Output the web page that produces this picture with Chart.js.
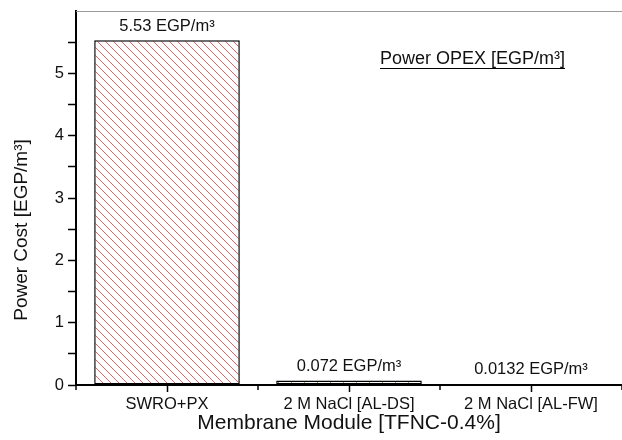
<!DOCTYPE html>
<html>
<head>
<meta charset="utf-8">
<script src="https://cdn.jsdelivr.net/npm/chart.js@4"></script>
<style>
  html, body { margin: 0; padding: 0; background: #fff; }
  #wrap { width: 622px; height: 440px; }
</style>
</head>
<body>
<div id="wrap"><canvas id="costChart" width="622" height="440"></canvas></div>
<script>
var modules = ['SWRO+PX', '2 M NaCl [AL-DS]', '2 M NaCl [AL-FW]'];
var powerCost = [5.53, 0.072, 0.0132];
var costLabels = ['5.53', '0.072', '0.0132'];
var unit = 'EGP/m\u00B3';

var FONT = "'Liberation Sans', Arial, sans-serif";

// diagonal hatch fill, lines running top-left to bottom-right
function hatch(color, gap, width) {
    var c = document.createElement('canvas');
    c.width = gap; c.height = gap;
    var g = c.getContext('2d');
    g.fillStyle = '#fff';
    g.fillRect(0, 0, gap, gap);
    g.strokeStyle = color;
    g.lineWidth = width;
    g.beginPath();
    g.moveTo(-1, -1); g.lineTo(gap + 1, gap + 1);
    g.moveTo(-1, gap - 1); g.lineTo(1, gap + 1);
    g.moveTo(gap - 1, -1); g.lineTo(gap + 1, 1);
    g.stroke();
    return g.createPattern(c, 'repeat');
}

var fills = [
    hatch('rgba(226, 70, 70, 0.85)', 8, 1),
    hatch('rgba(110, 170, 60, 0.9)', 13, 1),
    hatch('rgba(70, 70, 150, 0.95)', 13, 1.2)
];

var extras = {
    id: 'extras',
    afterDraw: function (chart) {
        var ctx = chart.ctx;
        var area = chart.chartArea;
        var x = chart.scales.x;
        ctx.save();

        // thin frame line along the top
        ctx.strokeStyle = '#9a9a9a';
        ctx.lineWidth = 1;
        ctx.beginPath();
        ctx.moveTo(area.left, area.top + 0.5);
        ctx.lineTo(chart.width, area.top + 0.5);
        ctx.stroke();

        // minor ticks between categories
        ctx.strokeStyle = '#000';
        ctx.lineWidth = 1.5;
        var step = x.getPixelForValue(1) - x.getPixelForValue(0);
        for (var i = 0; i <= modules.length; i++) {
            var px = x.getPixelForValue(0) - step / 2 + i * step;
            ctx.beginPath();
            ctx.moveTo(px, area.bottom);
            ctx.lineTo(px, area.bottom + 5);
            ctx.stroke();
        }

        // value labels above bars
        ctx.fillStyle = '#111';
        ctx.font = '16.5px ' + FONT;
        ctx.textAlign = 'center';
        ctx.textBaseline = 'bottom';
        chart.getDatasetMeta(0).data.forEach(function (bar, i) {
            ctx.fillText(costLabels[i] + ' ' + unit, bar.x, bar.y - 6);
        });

        // y axis title
        ctx.save();
        ctx.translate(22, 230);
        ctx.rotate(-Math.PI / 2);
        ctx.font = '19px ' + FONT;
        ctx.textBaseline = 'middle';
        ctx.fillText('Power Cost [' + unit + ']', 0, 0);
        ctx.restore();

        // underlined note
        ctx.font = '18px ' + FONT;
        ctx.textAlign = 'left';
        ctx.textBaseline = 'alphabetic';
        var note = 'Power OPEX [' + unit + ']';
        var w = ctx.measureText(note).width;
        ctx.fillText(note, 380, 64);
        ctx.lineWidth = 1;
        ctx.beginPath();
        ctx.moveTo(380, 68.5);
        ctx.lineTo(380 + w, 68.5);
        ctx.stroke();

        ctx.restore();
    }
};

new Chart(document.getElementById('costChart').getContext('2d'), {
    type: 'bar',
    data: {
        labels: modules,
        datasets: [{
            label: 'Power OPEX',
            data: powerCost,
            backgroundColor: fills,
            borderColor: '#000',
            borderWidth: 1.5,
            borderSkipped: false,
            barPercentage: 0.8,
            categoryPercentage: 1
        }]
    },
    options: {
        responsive: false,
        animation: false,
        layout: { padding: { top: 11, right: 0, left: 0, bottom: 0 } },
        plugins: {
            legend: { display: false },
            tooltip: { enabled: false }
        },
        scales: {
            x: {
                offset: true,
                grid: { offset: false, drawOnChartArea: false, tickLength: 7, tickColor: '#000', tickWidth: 1.5 },
                border: { color: '#000', width: 2 },
                ticks: { color: '#111', font: { family: FONT, size: 16.5 }, padding: 3, maxRotation: 0 },
                title: {
                    display: true,
                    text: 'Membrane Module [TFNC-0.4%]',
                    color: '#111',
                    font: { family: FONT, size: 21 },
                    padding: { top: 2, bottom: 4 }
                },
                afterFit: function (scale) { scale.height = 55; }
            },
            y: {
                min: 0,
                max: 6,
                grid: { drawOnChartArea: false, tickLength: 8, tickColor: '#000', tickWidth: 1.5 },
                border: { color: '#000', width: 2 },
                ticks: {
                    stepSize: 0.5,
                    color: '#111',
                    font: { family: FONT, size: 16.5 },
                    padding: 4,
                    callback: function (v) { return Number.isInteger(v) ? String(v) : ''; }
                },
                afterBuildTicks: function (scale) {
                    scale.ticks = scale.ticks.filter(function (t) { return t.value <= 5.5; });
                },
                afterFit: function (scale) {
                    scale.width = 76;
                    scale.paddingTop = 0;
                    scale.paddingBottom = 0;
                }
            }
        }
    },
    plugins: [extras]
});
</script>
</body>
</html>
